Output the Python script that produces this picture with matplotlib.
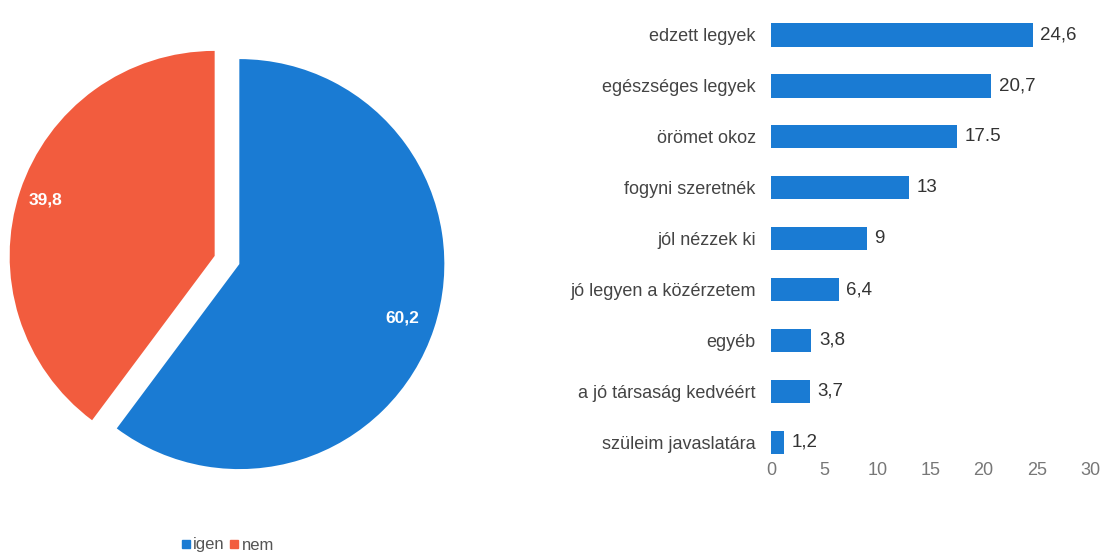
import numpy as np
import matplotlib
matplotlib.use('Agg')
import matplotlib.pyplot as plt
from matplotlib.lines import Line2D

plt.rcParams['font.family'] = ['Liberation Sans', 'DejaVu Sans']

# pie data
pie_labels = ['igen', 'nem']
pie_values = [60.2, 39.8]
pie_text = ['60,2', '39,8']

# bar data
categories = ['edzett legyek', 'egészséges legyek', 'örömet okoz', 'fogyni szeretnék',
              'jól nézzek ki', 'jó legyen a közérzetem', 'egyéb',
              'a jó társaság kedvéért', 'szüleim javaslatára']
values = [24.6, 20.7, 17.5, 13, 9, 6.4, 3.8, 3.7, 1.2]
value_text = ['24,6', '20,7', '17.5', '13', '9', '6,4', '3,8', '3,7', '1,2']
xticks = [0, 5, 10, 15, 20, 25, 30]

blue = '#1a7bd3'
red = '#f25c3e'

W, H = 1104, 555
fig = plt.figure(figsize=(W / 100, H / 100), dpi=100)

# ---- pie ----
ax1 = fig.add_axes([7 / W, (H - 260 - 220) / H, 440 / W, 440 / H])
r = 1.025
expl = 0.065
wedges, _ = ax1.pie(pie_values, colors=[blue, red], startangle=90, counterclock=False,
                    radius=r, explode=[expl, expl])
ax1.set_xlim(-1.1, 1.1)
ax1.set_ylim(-1.1, 1.1)
label_dist = [0.84, 0.87]
for w, t, d in zip(wedges, pie_text, label_dist):
    ang = np.deg2rad((w.theta1 + w.theta2) / 2)
    cx, cy = w.center
    ax1.text(cx + d * r * np.cos(ang), cy + d * r * np.sin(ang), t,
             ha='center', va='center', color='white', fontsize=12.5, fontweight='bold')

handles = [Line2D([], [], marker='s', linestyle='', color=c, markersize=6) for c in [blue, red]]
fig.legend(handles, pie_labels, loc='center left', bbox_to_anchor=(174 / W, 1 - 545 / H),
           ncol=2, frameon=False, handlelength=0.6, handletextpad=0.15, columnspacing=0.25,
           fontsize=12, labelcolor='#555555', borderaxespad=0)

# ---- bars ----
ax2 = fig.add_axes([771 / W, 1 - 455 / H, (1090 - 771) / W, (455 - 9.5) / H])
y = np.arange(len(categories))
ax2.barh(y, values, height=0.46, color=blue)
ax2.set_ylim(8.25, -0.5)
ax2.set_xlim(0, 30)
ax2.set_xticks(xticks)
ax2.set_yticks(y)
ax2.set_yticklabels(categories)
for yi, v, t in zip(y, values, value_text):
    ax2.text(v + 0.7, yi, t, va='center', ha='left', fontsize=13.5, color='#333333')
for s in ax2.spines.values():
    s.set_visible(False)
ax2.tick_params(axis='y', length=0, pad=11, labelsize=13, labelcolor='#444444')
ax2.tick_params(axis='x', length=0, pad=5, labelsize=13, labelcolor='#777777')

fig.savefig('out.png', dpi=100, facecolor='white')
